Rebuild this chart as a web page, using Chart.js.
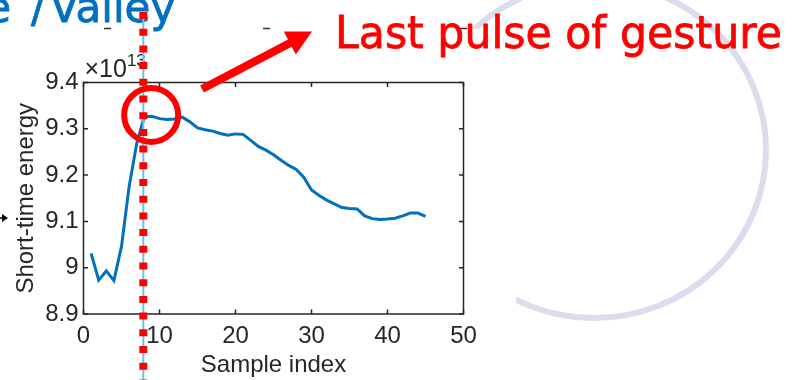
<!DOCTYPE html>
<html>
<head>
<meta charset="utf-8">
<script src="https://cdn.jsdelivr.net/npm/chart.js@4.4.1/dist/chart.umd.min.js"></script>
<style>
  html, body { margin: 0; padding: 0; background: #ffffff; overflow: hidden; }
  #wrap { position: relative; width: 802px; height: 380px; }
  canvas { display: block; }
</style>
</head>
<body>
<div id="wrap"><canvas id="energyChart" width="802" height="380"></canvas></div>
<script>
// Short-time energy of the received signal, one value per sample (units of 1e13)
const sampleIndex = [1, 2, 3, 4, 5, 6, 7, 8, 9, 10, 11, 12, 13, 14, 15, 16, 17, 18, 19, 20,
  21, 22, 23, 24, 25, 26, 27, 28, 29, 30, 31, 32, 33, 34, 35, 36, 37, 38, 39, 40,
  41, 42, 43, 44, 45];
const shortTimeEnergy = [9.031, 8.973, 8.993, 8.972, 9.046, 9.175, 9.268, 9.326, 9.327, 9.322,
  9.320, 9.321, 9.325, 9.315, 9.302, 9.298, 9.295, 9.290, 9.286, 9.289,
  9.288, 9.275, 9.262, 9.254, 9.244, 9.232, 9.221, 9.212, 9.195, 9.168,
  9.156, 9.146, 9.138, 9.130, 9.128, 9.127, 9.112, 9.106, 9.104, 9.105,
  9.107, 9.112, 9.118, 9.118, 9.111];

const xTickValues = [0, 10, 20, 30, 40, 50];
const xTickLabels = ['0', '10', '20', '30', '40', '50'];
const yTickValues = [8.9, 9.0, 9.1, 9.2, 9.3, 9.4];
const yTickLabels = ['8.9', '9', '9.1', '9.2', '9.3', '9.4'];

// Marker for the last pulse of the gesture (sample index / energy)
const lastPulseSample = 7.87;
const pulseCircleCenter = [8.9, 9.33];

const headingParts = ['e', '/', 'Valley'];
const annotationText = 'Last pulse of gesture';
const xTitle = 'Sample index';
const yTitle = 'Short-time energy';

const AXIS_COLOR = '#262626';
const AXIS_FONT = '"Liberation Sans", Arial, Helvetica, sans-serif';
const NOTE_FONT = '"DejaVu Sans", sans-serif';

const energyPoints = sampleIndex.map((s, i) => ({ x: s, y: shortTimeEnergy[i] }));

const slideOverlay = {
  id: 'slideOverlay',
  beforeDraw(chart) {
    const ctx = chart.ctx;
    // lavender ring behind the figure, hidden where the figure panel sits
    ctx.save();
    ctx.beginPath();
    ctx.rect(0, 0, chart.width, chart.height);
    ctx.rect(0, 29, 516, chart.height - 29);
    ctx.clip('evenodd');
    ctx.beginPath();
    ctx.ellipse(594, 150, 172, 168, 0, 0, Math.PI * 2);
    ctx.lineWidth = 6;
    ctx.strokeStyle = '#dcdcef';
    ctx.stroke();
    ctx.restore();

    // remnants of the line above the figure panel
    ctx.save();
    ctx.strokeStyle = '#333333';
    ctx.lineWidth = 1.5;
    ctx.beginPath();
    [[104, 111], [263, 270], [460, 467]].forEach(([a, b]) => {
      ctx.moveTo(a, 28.5); ctx.lineTo(b, 28.5);
    });
    ctx.stroke();
    ctx.restore();
  },
  afterDatasetsDraw(chart) {
    const ctx = chart.ctx;
    const { left, right, top, bottom } = chart.chartArea;
    const xs = chart.scales.x, ys = chart.scales.y;
    const tl = 4.5;
    ctx.save();
    ctx.strokeStyle = AXIS_COLOR;
    ctx.lineWidth = 1.5;
    ctx.strokeRect(left, top, right - left, bottom - top);
    ctx.beginPath();
    xTickValues.forEach(v => {
      const px = xs.getPixelForValue(v);
      ctx.moveTo(px, bottom); ctx.lineTo(px, bottom - tl);
      ctx.moveTo(px, top); ctx.lineTo(px, top + tl);
    });
    yTickValues.forEach(v => {
      const py = ys.getPixelForValue(v);
      ctx.moveTo(left, py); ctx.lineTo(left + tl, py);
      ctx.moveTo(right, py); ctx.lineTo(right - tl, py);
    });
    ctx.stroke();
    // exponent label above the y axis
    ctx.fillStyle = AXIS_COLOR;
    ctx.textAlign = 'left';
    ctx.textBaseline = 'alphabetic';
    ctx.font = '25px ' + AXIS_FONT;
    const base = '\u00d710';
    ctx.fillText(base, left + 1, 77);
    const w = ctx.measureText(base).width;
    ctx.font = '17px ' + AXIS_FONT;
    ctx.fillText('13', left + 1 + w, 66);
    ctx.restore();
  },
  afterDraw(chart) {
    const ctx = chart.ctx;
    const xs = chart.scales.x, ys = chart.scales.y;
    ctx.save();
    ctx.textBaseline = 'alphabetic';

    // heading fragment at the top-left, cut by the left edge
    ctx.font = '42px ' + NOTE_FONT;
    ctx.fillStyle = '#0070c0';
    ctx.strokeStyle = '#0070c0';
    ctx.lineWidth = 0.8;
    const headingPos = [[11, 'right'], [31, 'left'], [50, 'left']];
    headingParts.forEach((t, i) => {
      ctx.textAlign = headingPos[i][1];
      ctx.fillText(t, headingPos[i][0], 22, i === 2 ? 131 : undefined);
      ctx.strokeText(t, headingPos[i][0], 22, i === 2 ? 131 : undefined);
    });

    // vertical marker at the last pulse
    const mx = xs.getPixelForValue(lastPulseSample);
    ctx.beginPath();
    ctx.moveTo(mx, 12);
    ctx.lineTo(mx, chart.height);
    ctx.strokeStyle = '#5cc8f2';
    ctx.lineWidth = 2;
    ctx.stroke();

    ctx.beginPath();
    ctx.setLineDash([7, 9.7]);
    ctx.lineCap = 'butt';
    ctx.moveTo(mx, 12);
    ctx.lineTo(mx, chart.height);
    ctx.strokeStyle = '#ff0000';
    ctx.lineWidth = 8;
    ctx.stroke();
    ctx.setLineDash([]);

    // circle around the peak
    const cx = xs.getPixelForValue(pulseCircleCenter[0]);
    const cy = ys.getPixelForValue(pulseCircleCenter[1]);
    ctx.beginPath();
    ctx.arc(cx, cy, 27, 0, Math.PI * 2);
    ctx.lineWidth = 6;
    ctx.strokeStyle = '#ff0000';
    ctx.stroke();

    // arrow pointing to the caption
    const tail = [202, 89], tip = [312, 31.5];
    const dx = tip[0] - tail[0], dy = tip[1] - tail[1];
    const len = Math.hypot(dx, dy);
    const ux = dx / len, uy = dy / len, nx = -uy, ny = ux;
    const sw = 4, hl = 25, hw = 13;
    const bx = tip[0] - ux * hl, by = tip[1] - uy * hl;
    ctx.beginPath();
    ctx.moveTo(tail[0] + nx * sw, tail[1] + ny * sw);
    ctx.lineTo(bx + nx * sw, by + ny * sw);
    ctx.lineTo(bx + nx * hw, by + ny * hw);
    ctx.lineTo(tip[0], tip[1]);
    ctx.lineTo(bx - nx * hw, by - ny * hw);
    ctx.lineTo(bx - nx * sw, by - ny * sw);
    ctx.lineTo(tail[0] - nx * sw, tail[1] - ny * sw);
    ctx.closePath();
    ctx.fillStyle = '#ff0000';
    ctx.fill();

    // caption
    ctx.font = '45px ' + NOTE_FONT;
    ctx.textAlign = 'left';
    ctx.fillStyle = '#ff0000';
    ctx.strokeStyle = '#ff0000';
    ctx.lineWidth = 0.8;
    ctx.fillText(annotationText, 335, 47.5, 447);
    ctx.strokeText(annotationText, 335, 47.5, 447);

    // small pointer at the left edge
    ctx.beginPath();
    ctx.moveTo(-2, 218); ctx.lineTo(3, 218);
    ctx.strokeStyle = '#000000';
    ctx.lineWidth = 1.5;
    ctx.stroke();
    ctx.beginPath();
    ctx.moveTo(2, 214); ctx.lineTo(8, 218); ctx.lineTo(2, 222);
    ctx.closePath();
    ctx.fillStyle = '#000000';
    ctx.fill();

    ctx.restore();
  }
};

new Chart(document.getElementById('energyChart'), {
  type: 'line',
  data: {
    datasets: [{
      data: energyPoints,
      borderColor: '#0072bd',
      borderWidth: 3,
      pointRadius: 0,
      tension: 0,
      fill: false
    }]
  },
  options: {
    responsive: false,
    animation: false,
    devicePixelRatio: 1,
    layout: { padding: { top: 82.5, right: 338.5, left: 0, bottom: 0 } },
    plugins: { legend: { display: false }, tooltip: { enabled: false } },
    scales: {
      x: {
        type: 'linear',
        min: 0, max: 50,
        afterBuildTicks: s => { s.ticks = xTickValues.map(v => ({ value: v })); },
        afterFit: s => { s.height = 66; },
        ticks: {
          callback: (v, i) => xTickLabels[i],
          font: { family: AXIS_FONT, size: 24 },
          color: AXIS_COLOR,
          padding: 8,
          maxRotation: 0
        },
        grid: { display: false, drawTicks: false },
        border: { display: false },
        title: {
          display: true, text: xTitle,
          font: { family: AXIS_FONT, size: 24 },
          color: AXIS_COLOR,
          padding: { top: 0, bottom: 0 }
        }
      },
      y: {
        type: 'linear',
        min: 8.9, max: 9.4,
        afterBuildTicks: s => { s.ticks = yTickValues.map(v => ({ value: v })); },
        afterFit: s => { s.width = 83.5; },
        ticks: {
          callback: (v, i) => yTickLabels[i],
          font: { family: AXIS_FONT, size: 24 },
          color: AXIS_COLOR,
          padding: 5
        },
        grid: { display: false, drawTicks: false },
        border: { display: false },
        title: {
          display: true, text: yTitle,
          font: { family: AXIS_FONT, size: 24 },
          color: AXIS_COLOR,
          padding: { top: 12, bottom: 0 }
        }
      }
    }
  },
  plugins: [slideOverlay]
});
</script>
</body>
</html>
